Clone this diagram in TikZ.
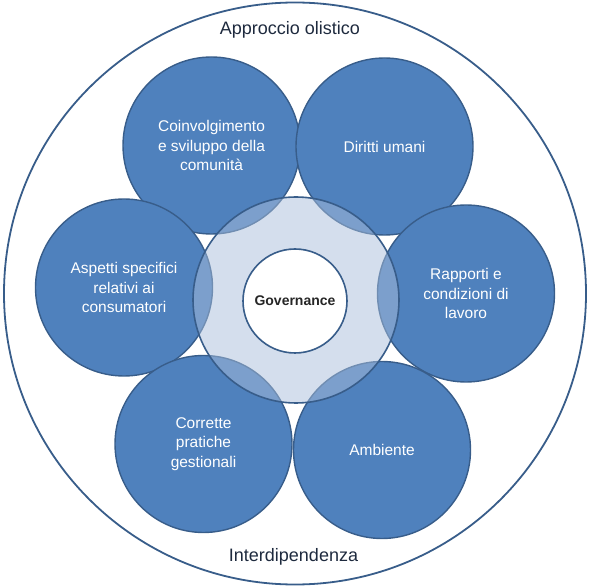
\documentclass[tikz,border=0pt]{standalone}
\usepackage{fontspec}
\setmainfont{Liberation Sans}
\definecolor{cfill}{RGB}{79,129,189}
\definecolor{cline}{RGB}{56,93,138}
\definecolor{ringfill}{RGB}{169,190,219}
\definecolor{labtxt}{RGB}{30,42,62}
\tikzset{
  topic/.style={circle, minimum size=177pt, inner sep=0pt, fill=cfill, draw=cline, line width=1.4pt,
    text=white, align=center, font=\fontsize{15.5}{19.5}\selectfont},
  outerlab/.style={text=labtxt, font=\fontsize{18}{22}\selectfont, inner sep=0pt}
}
\begin{document}
\begin{tikzpicture}[x=1pt,y=-1pt]
\useasboundingbox (0,0) rectangle (590,588);
% outer circle
\node[circle, minimum size=582pt, inner sep=0pt, draw=cline, line width=1.8pt] (outer) at (295,293.5) {};
\node[outerlab] (holistic) at (290,30) {Approccio olistico};
\node[outerlab] (interdep) at (293.5,557) {Interdipendenza};
% six topics
\node[topic] (comm) at (211.5,145.5) {Coinvolgimento\\e sviluppo della\\comunità};
\node[topic] (rights) at (384.5,146.5) {Diritti umani};
\node[topic] (cons) at (124,287.5) {Aspetti specifici\\relativi ai\\consumatori};
\node[topic] (labour) at (466,293.5) {Rapporti e\\condizioni di\\lavoro};
\node[topic] (fair) at (203.5,444) {Corrette\\pratiche\\gestionali};
\node[topic] (env) at (382,450) {Ambiente};
% central ring
\fill[ringfill, fill opacity=0.5] (296,300) circle[radius=103];
\draw[cline, line width=1.6pt] (296,300) circle[radius=103];
\node[circle, minimum size=104pt, inner sep=0pt, fill=white, draw=cline, line width=1.6pt,
  font=\fontsize{14}{16}\selectfont\bfseries, text=black!85] (gov) at (295,301) {Governance};
\end{tikzpicture}
\end{document}
